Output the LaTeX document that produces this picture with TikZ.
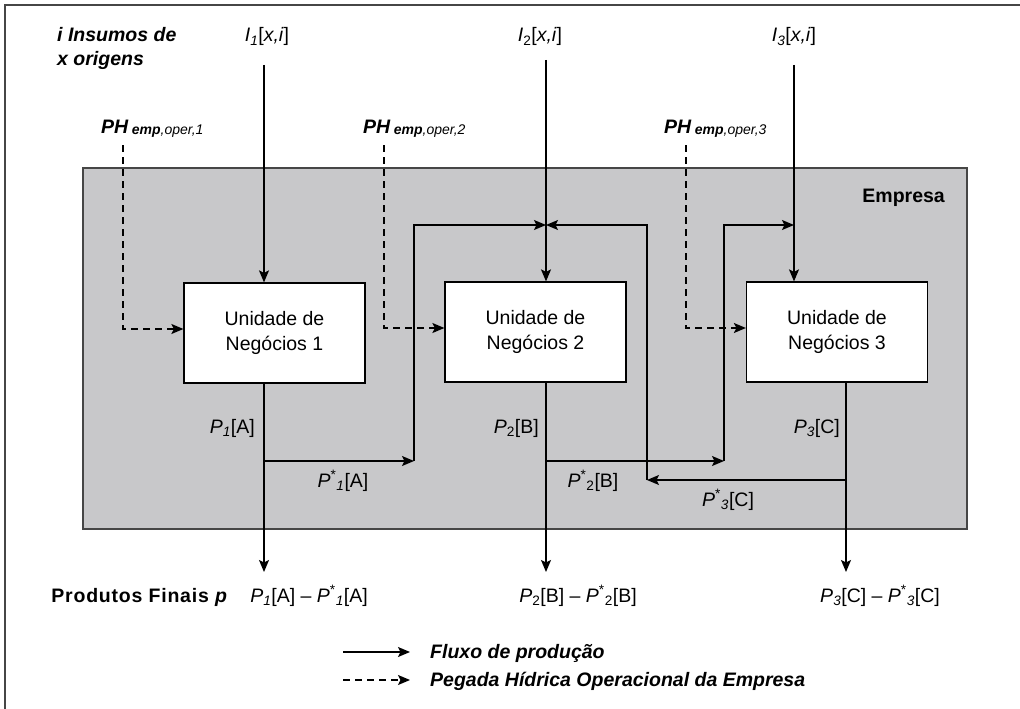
\documentclass[tikz,border=0pt]{standalone}
\usepackage{fontspec}
\setmainfont{Liberation Sans}
\usetikzlibrary{arrows.meta,positioning}
\definecolor{empresagray}{RGB}{200,200,202}
\definecolor{framegray}{RGB}{70,70,70}
\newcommand{\PH}[1]{\textbf{\textit{PH}}\,{\fontsize{14}{15}\selectfont\raisebox{-1.5pt}{\textbf{\textit{emp}}\textit{,oper,#1}}}}
\newcommand{\Ins}[1]{\textit{I}\textsubscript{#1}[\textit{x,i}]}
\newcommand{\Prod}[2]{\textit{P}\textsubscript{#1}[#2]}
\newcommand{\Pstar}[2]{\textit{P}\textsuperscript{*}\textsubscript{#1}[#2]}
\begin{document}
\fontsize{19.5}{25}\selectfont
\begin{tikzpicture}[x=1pt,y=-1pt,
    lbl/.style={inner sep=0pt},
    unidade/.style={draw, fill=white, line width=1.2pt, minimum width=181pt, minimum height=100pt, align=center, inner sep=0pt},
    flow/.style={line width=1.3pt, -{Stealth[length=12pt,width=10pt,inset=2.5pt]}},
    pegada/.style={line width=1.3pt, dash pattern=on 7pt off 5pt, -{Stealth[length=12pt,width=10pt,inset=2.5pt]}}]
    \useasboundingbox (0,0) rectangle (1020,709);
    \draw[framegray, line width=1.2pt] (5,709) -- (5,5) -- (1020,5);
    % empresa
    \node[draw=framegray, fill=empresagray, line width=1.5pt, minimum width=884pt, minimum height=361pt, inner sep=0pt] (empresa) at (525,348.5) {};
    \node[lbl, anchor=base east, font=\bfseries] (empresalbl) at (945,202) {Empresa};
    % unidades
    \node[unidade] (un1) at (274.5,333) {Unidade de\\Negócios 1};
    \node[unidade] (un2) at (535.5,332) {Unidade de\\Negócios 2};
    \node[unidade] (un3) at (837,332) {Unidade de\\Negócios 3};
    % insumos
    \node[lbl, anchor=base west, font=\bfseries\itshape] (ins1) at (57,42) {i Insumos de};
    \node[lbl, anchor=base west, font=\bfseries\itshape] (ins2) at (57,66) {x origens};
    \node[lbl, anchor=base] (in1) at (267,42) {\Ins{\textit{1}}};
    \node[lbl, anchor=base] (in2) at (540,42) {\Ins{2}};
    \node[lbl, anchor=base] (in3) at (794,42) {\Ins{\textit{3}}};
    \coordinate (s1) at (264,65);
    \coordinate (s2) at (546,60);
    \coordinate (s3) at (794,65);
    \coordinate (j2) at (546,225);
    \coordinate (j3) at (794,225);
    \draw[flow] (s1) -- (s1 |- un1.north);
    \draw[flow] (s2) -- (s2 |- un2.north);
    \draw[flow] (s3) -- (s3 |- un3.north);
    % pegada hidrica
    \node[lbl, anchor=base west] (ph1) at (101,133) {\PH{1}};
    \node[lbl, anchor=base west] (ph2) at (363,133) {\PH{2}};
    \node[lbl, anchor=base west] (ph3) at (664,133) {\PH{3}};
    \coordinate (d1) at (123,145);
    \coordinate (d2) at (384,145);
    \coordinate (d3) at (686,145);
    \draw[pegada] (d1) |- ([yshift=4pt]un1.west);
    \draw[pegada] (d2) |- ([yshift=4pt]un2.west);
    \draw[pegada] (d3) |- ([yshift=4pt]un3.west);
    % produtos
    \coordinate (b1) at (264,461);
    \coordinate (c1) at (414,461);
    \coordinate (b2) at (546,461);
    \coordinate (c2) at (724,461);
    \coordinate (b3) at (846,480);
    \coordinate (c3) at (647,480);
    \coordinate (e1) at (264,572);
    \coordinate (e2) at (546,572);
    \coordinate (e3) at (846,572);
    \draw[flow] (b1 |- un1.south) -- (e1);
    \draw[flow] (b2 |- un2.south) -- (e2);
    \draw[flow] (b3 |- un3.south) -- (e3);
    \draw[flow] (b1) -- (c1);
    \draw[flow] (c1) |- (j2);
    \draw[flow] (b2) -- (c2);
    \draw[flow] (c2) |- (j3);
    \draw[flow] (b3) -- (c3);
    \draw[flow] (c3) |- (j2);
    \node[lbl, anchor=base east] (p1) at (255,433) {\Prod{\textit{1}}{A}};
    \node[lbl, anchor=base east] (p2) at (539,433) {\Prod{2}{B}};
    \node[lbl, anchor=base east] (p3) at (840,433) {\Prod{\textit{3}}{C}};
    \node[lbl, anchor=base] (ps1) at (343,487) {\Pstar{\textit{1}}{A}};
    \node[lbl, anchor=base] (ps2) at (593,487) {\Pstar{2}{B}};
    \node[lbl, anchor=base] (ps3) at (728,506) {\Pstar{\textit{3}}{C}};
    % finais
    \node[lbl, anchor=base east, font=\bfseries\addfontfeatures{LetterSpace=4}] (prod) at (228,602) {Produtos Finais\ \textit{p}};
    \node[lbl, anchor=base] (fin1) at (309,602) {\Prod{\textit{1}}{A} -- \Pstar{\textit{1}}{A}};
    \node[lbl, anchor=base] (fin2) at (578,602) {\Prod{2}{B} -- \Pstar{2}{B}};
    \node[lbl, anchor=base] (fin3) at (880,602) {\Prod{\textit{3}}{C} -- \Pstar{\textit{3}}{C}};
    % legenda
    \coordinate (l1a) at (343,652);
    \coordinate (l1b) at (410,652);
    \coordinate (l2a) at (343,680);
    \coordinate (l2b) at (410,680);
    \draw[flow] (l1a) -- (l1b);
    \draw[pegada] (l2a) -- (l2b);
    \node[lbl, anchor=base west, font=\bfseries\itshape] (leg1) at (430,658) {Fluxo de produção};
    \node[lbl, anchor=base west, font=\bfseries\itshape] (leg2) at (430,686) {Pegada Hídrica Operacional da Empresa};
\end{tikzpicture}
\end{document}
